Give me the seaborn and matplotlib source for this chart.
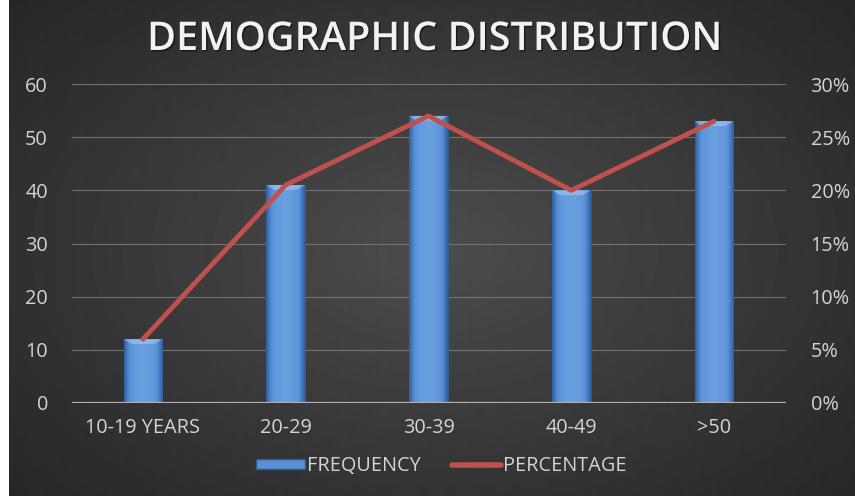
import numpy as np
import matplotlib
matplotlib.use("Agg")
import matplotlib.pyplot as plt
import seaborn as sns
import pandas as pd
from matplotlib.lines import Line2D
from matplotlib.patches import Patch
from matplotlib.colors import LinearSegmentedColormap
import matplotlib.patheffects as pe

categories = ["10-19 YEARS", "20-29", "30-39", "40-49", ">50"]
frequency = [12, 41, 54, 40, 53]
percentage = [6.0, 20.5, 27.0, 20.0, 26.5]
left_ticks = [0, 10, 20, 30, 40, 50, 60]
right_ticks = [0, 5, 10, 15, 20, 25, 30]
title = "DEMOGRAPHIC DISTRIBUTION"

sns.set_theme(style="dark")
plt.rcParams['font.family'] = ['Open Sans', 'DejaVu Sans']

W, H = 855, 496
fig = plt.figure(figsize=(W / 100, H / 100), dpi=100)
fig.patch.set_facecolor('white')

# radial gradient background
bg = fig.add_axes([9 / W, 0, 1 - 9 / W, 1])
bg.axis('off')
yy, xx = np.mgrid[0:H, 0:W - 9]
cx, cy = 425, 250
r = np.sqrt(((xx - cx) / 520.0) ** 2 + ((yy - cy) / 330.0) ** 2)
v = np.clip(0.30 - 0.135 * r, 0, 1)
bg.imshow(v, cmap='gray', vmin=0, vmax=1, aspect='auto', extent=[0, 1, 0, 1],
          interpolation='bilinear')
bg.set_xlim(0, 1)
bg.set_ylim(0, 1)

df = pd.DataFrame({"category": categories, "frequency": frequency, "percentage": percentage})

ax = fig.add_axes([71.5 / W, 1 - 403 / H, (785.5 - 71.5) / W, (403 - 84) / H])
ax.set_facecolor('none')
sns.barplot(data=df, x="category", y="frequency", ax=ax, width=0.27,
            color='#4f81bd', saturation=1, edgecolor='#2f5a8f', linewidth=0.6, zorder=3)

# gradient fill on bars
grad = np.linspace(-1, 1, 64)
shade = 1 - np.abs(grad) ** 2
bcmap = LinearSegmentedColormap.from_list("b", ["#2f5f9e", "#5a90d6", "#6a9fe0"])
for p in ax.patches:
    x0, y0 = p.get_x(), p.get_y()
    w, h = p.get_width(), p.get_height()
    im = ax.imshow(shade[np.newaxis, :], cmap=bcmap, vmin=0, vmax=1, aspect='auto',
                   extent=[x0, x0 + w, y0, y0 + h], zorder=4, interpolation='bilinear')
    im.set_clip_path(p)
    ax.fill([x0, x0 + w, x0 + w * 0.8, x0 + w * 0.2], [y0 + h, y0 + h, y0 + h - 0.9, y0 + h - 0.9],
            color='#a9cdf5', alpha=0.55, zorder=5, lw=0)

ax.set_xlim(-0.5, len(categories) - 0.5)
ax.set_ylim(left_ticks[0], left_ticks[-1])
ax.set_yticks(left_ticks)
ax.set_yticklabels([str(t) for t in left_ticks])
ax.yaxis.grid(True, color='#727272', lw=0.8, zorder=0)
ax.xaxis.grid(False)
ax.axhline(0, color='#b0b0b0', lw=1.6, zorder=6)
for s in ax.spines.values():
    s.set_visible(False)
ax.set_xlabel("")
ax.set_ylabel("")
ax.tick_params(axis='both', length=0, colors='#d4d4d4', labelsize=14.3)
ax.tick_params(axis='y', pad=17)
ax.tick_params(axis='x', pad=11)

ax2 = ax.twinx()
ax2.set_facecolor('none')
sns.lineplot(x=np.arange(len(categories)), y=df["percentage"], ax=ax2, color='#c0504d',
             lw=3.5, zorder=7)
ax2.set_ylim(right_ticks[0], right_ticks[-1])
ax2.set_yticks(right_ticks)
ax2.set_yticklabels([f"{t}%" for t in right_ticks])
ax2.set_ylabel("")
for s in ax2.spines.values():
    s.set_visible(False)
ax2.grid(False)
ax2.tick_params(axis='y', length=0, colors='#d4d4d4', labelsize=14.3, pad=18)

fig.text(0.509, 1 - 40 / H, title, ha='center', va='center', fontsize=28.5,
         fontweight='semibold', color='#f2f2f2',
         path_effects=[pe.withSimplePatchShadow(offset=(1, -1), shadow_rgbFace='black', alpha=0.5)])

handles = [Patch(facecolor='#5a90d6', edgecolor='#2f5a8f', label='FREQUENCY'),
           Line2D([0], [0], color='#c0504d', lw=4, label='PERCENTAGE')]
leg = fig.legend(handles=handles, loc='center', bbox_to_anchor=(0.516, 1 - 466 / H), ncol=2,
                 frameon=False, fontsize=14.3, handlelength=2.5, handleheight=0.42,
                 handletextpad=0.1, columnspacing=1.55, labelcolor='#d4d4d4')

fig.savefig("out.png", dpi=100, facecolor=fig.get_facecolor())
